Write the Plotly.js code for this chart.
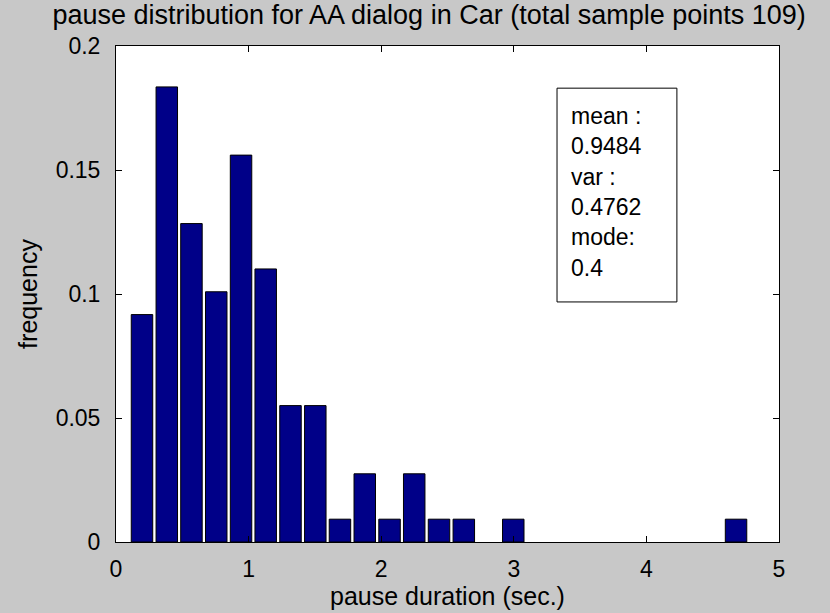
<!DOCTYPE html>
<html>
<head>
<meta charset="utf-8">
<script src="https://cdn.plot.ly/plotly-3.0.1.min.js"></script>
<style>html,body{margin:0;padding:0;background:#c8c8c8;}#chart{width:830px;height:613px;}</style>
</head>
<body>
<div id="chart"></div>
<script>
// bin centers (pause duration, sec.)
const binCenters = [0.196, 0.383, 0.569, 0.756, 0.943, 1.129, 1.316, 1.503, 1.689, 1.876,
                    2.063, 2.249, 2.436, 2.623, 2.809, 2.996, 3.183, 3.369, 3.556, 3.743,
                    3.929, 4.116, 4.303, 4.489, 4.676];
// relative frequency per bin
const frequency = [0.0917, 0.1835, 0.1284, 0.1009, 0.1560, 0.1101, 0.0550, 0.0550, 0.0092, 0.0275,
                   0.0092, 0.0275, 0.0092, 0.0092, 0, 0.0092, 0, 0, 0,
                   0, 0, 0, 0, 0, 0.0092];
const xTicks = [0, 1, 2, 3, 4, 5];
const yTicks = [0, 0.05, 0.1, 0.15, 0.2];
const yTickLabels = ['0', '0.05', '0.1', '0.15', '0.2'];
const statLines = ['mean :', '0.9484', 'var :', '0.4762', 'mode:', '0.4'];
const titleText = 'pause distribution for AA dialog in Car (total sample points 109)';
const xTitle = 'pause duration (sec.)';
const yTitle = 'frequency';

const FONT = '"Liberation Sans", Arial, sans-serif';

const trace = {
  type: 'bar',
  x: binCenters,
  y: frequency,
  width: 0.162,
  marker: {color: '#000088', line: {color: '#000000', width: frequency.map(v => v > 0 ? 1 : 0)}},
  hoverinfo: 'x+y'
};

const annotations = statLines.map((t, i) => ({
  xref: 'x', yref: 'y',
  x: 3.42, y: 0.1718 - i * 0.01225,
  xanchor: 'left', yanchor: 'middle',
  text: t, showarrow: false,
  font: {family: FONT, size: 23, color: '#000'}
}));

const layout = {
  width: 830, height: 613,
  paper_bgcolor: '#c8c8c8',
  plot_bgcolor: '#ffffff',
  margin: {l: 116, r: 51, t: 46, b: 71},
  showlegend: false,
  font: {family: FONT, color: '#000'},
  title: {text: titleText, font: {family: FONT, size: 27, color: '#000'}, x: 0.517, xanchor: 'center', y: 0.992, yanchor: 'top'},
  xaxis: {
    range: [0, 5], tickvals: xTicks, ticktext: xTicks.map(String),
    ticks: 'inside', ticklen: 6, tickcolor: '#000', tickwidth: 1,
    showline: true, linecolor: '#000', linewidth: 1, mirror: 'ticks',
    showgrid: false, zeroline: false,
    tickfont: {family: FONT, size: 23, color: '#000'},
    ticklabelstandoff: 6,
    title: {text: xTitle, font: {family: FONT, size: 25, color: '#000'}, standoff: 2}
  },
  yaxis: {
    range: [0, 0.2], tickvals: yTicks, ticktext: yTickLabels,
    ticks: 'inside', ticklen: 6, tickcolor: '#000', tickwidth: 1,
    showline: true, linecolor: '#000', linewidth: 1, mirror: 'ticks',
    showgrid: false, zeroline: false,
    tickfont: {family: FONT, size: 23, color: '#000'},
    ticklabelstandoff: 10,
    title: {text: yTitle, font: {family: FONT, size: 25, color: '#000'}, standoff: 10}
  },
  shapes: [{
    type: 'rect', xref: 'x', yref: 'y',
    x0: 3.326, x1: 4.23, y0: 0.0968, y1: 0.183,
    line: {color: '#000', width: 1}, fillcolor: '#ffffff'
  }],
  annotations: annotations
};

Plotly.newPlot('chart', [trace], layout, {displayModeBar: false, staticPlot: true});
</script>
</body>
</html>
